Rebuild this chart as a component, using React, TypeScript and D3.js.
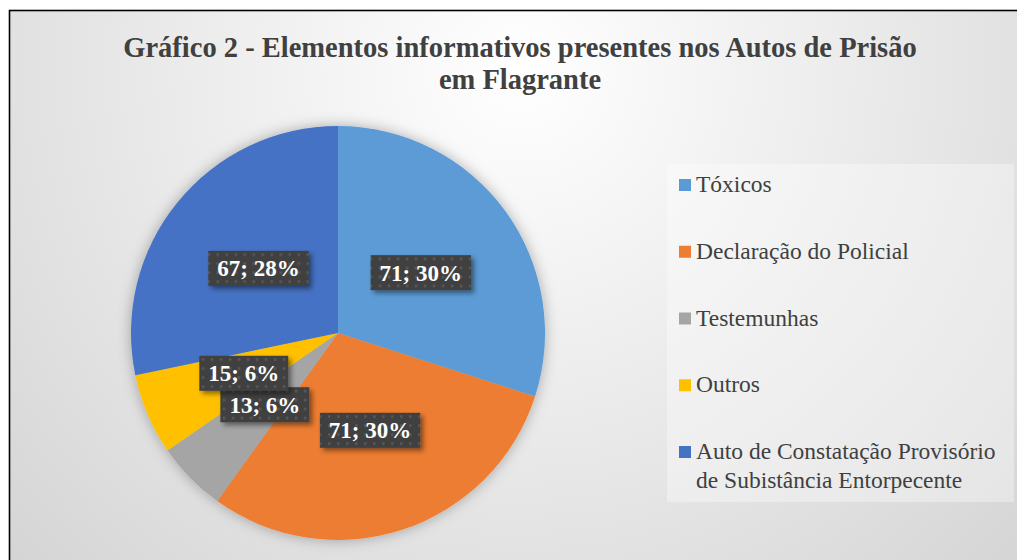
import React from 'react';
import * as d3 from 'd3';

const titleLines = ['Gráfico 2 - Elementos informativos presentes nos Autos de Prisão', 'em Flagrante'];
const categories = ['Tóxicos', 'Declaração do Policial', 'Testemunhas', 'Outros', 'Auto de Constatação Provisório de Subistância Entorpecente'];
const legendLines = [['Tóxicos'], ['Declaração do Policial'], ['Testemunhas'], ['Outros'], ['Auto de Constatação Provisório', 'de Subistância Entorpecente']];
const values = [71, 71, 13, 15, 67];
const percentLabels = ['30%', '30%', '6%', '6%', '28%'];
const colors = ['#5B9BD5', '#ED7D31', '#A5A5A5', '#FFC000', '#4472C4'];

const W = 1017;
const H = 560;
const cx = 338;
const cy = 333;
const R = 207;
const serif = 'Liberation Serif, Tinos, Times New Roman, DejaVu Serif, serif';

function measure(text: string, font: string): number {
  const c = document.createElement('canvas');
  const ctx = c.getContext('2d');
  if (!ctx) return text.length * 12;
  ctx.font = font;
  return ctx.measureText(text).width;
}

export default function App() {
  const pie = d3.pie<number>().sort(null).value((d) => d).startAngle(0).endAngle(2 * Math.PI);
  const arcs = pie(values);
  const arc = d3.arc<d3.PieArcDatum<number>>().innerRadius(0).outerRadius(R);
  const labelArc = d3.arc<d3.PieArcDatum<number>>().innerRadius(0).outerRadius(R * 0.99);

  const legendY = d3.scaleLinear().domain([0, 4]).range([192, 459]);
  const labelFont = `bold 23px "Liberation Serif", serif`;

  return (
    <svg width={W} height={H} style={{ position: 'absolute', left: 0, top: 0, fontFamily: serif }}>
      <defs>
        <radialGradient id="bg" gradientUnits="userSpaceOnUse" cx={520} cy={70} r={720}>
          <stop offset="0" stopColor="#ffffff" />
          <stop offset="0.45" stopColor="#ececec" />
          <stop offset="1" stopColor="#d4d4d4" />
        </radialGradient>
        <pattern id="dots" width={9} height={9} patternUnits="userSpaceOnUse">
          <rect width={9} height={9} fill="#404040" />
          <rect x={3} y={3} width={2.5} height={2.5} fill="#595959" />
        </pattern>
        <filter id="pieShadow" x="-20%" y="-20%" width="140%" height="140%">
          <feDropShadow dx={0} dy={0} stdDeviation={7} floodColor="#000" floodOpacity={0.3} />
        </filter>
        <filter id="boxShadow" x="-20%" y="-30%" width="150%" height="170%">
          <feDropShadow dx={3} dy={3} stdDeviation={2.5} floodColor="#000" floodOpacity={0.45} />
        </filter>
      </defs>
      <rect x={0} y={0} width={W} height={H} fill="#ffffff" />
      <rect x={9.5} y={10.5} width={W + 20} height={H + 20} fill="url(#bg)" stroke="#000" strokeWidth={1.6} />

      {titleLines.map((t, i) => (
        <text key={i} x={520} y={57 + i * 32} textAnchor="middle" fontSize={28.5} fontWeight="bold" fill="#404040" style={{ fontFamily: serif }}>
          {t}
        </text>
      ))}

      <g transform={`translate(${cx},${cy})`}>
        <g filter="url(#pieShadow)">
          {arcs.map((a, i) => (
            <path key={i} d={arc(a) || ''} fill={colors[i]} />
          ))}
        </g>
        {arcs.map((a, i) => {
          const [lx, ly] = labelArc.centroid(a);
          const text = `${values[i]}; ${percentLabels[i]}`;
          const tw = measure(text, labelFont);
          const bw = tw + 18;
          const bh = 35;
          return (
            <g key={i} transform={`translate(${lx},${ly})`}>
              <rect x={-bw / 2} y={-bh / 2} width={bw} height={bh} fill="url(#dots)" filter="url(#boxShadow)" />
              <text x={0} y={8} textAnchor="middle" fontSize={23} fontWeight="bold" fill="#ffffff" style={{ fontFamily: serif }}>
                {text}
              </text>
            </g>
          );
        })}
      </g>

      <rect x={667} y={164} width={347} height={338} fill="#ffffff" fillOpacity={0.35} />
      {categories.map((c, i) => (
        <g key={c}>
          <rect x={679} y={legendY(i) - 13} width={12} height={12} fill={colors[i]} />
          {legendLines[i].map((ln, j) => (
            <text key={j} x={696} y={legendY(i) + j * 29} fontSize={23.5} fill="#404040" style={{ fontFamily: serif }}>
              {ln}
            </text>
          ))}
        </g>
      ))}
    </svg>
  );
}
